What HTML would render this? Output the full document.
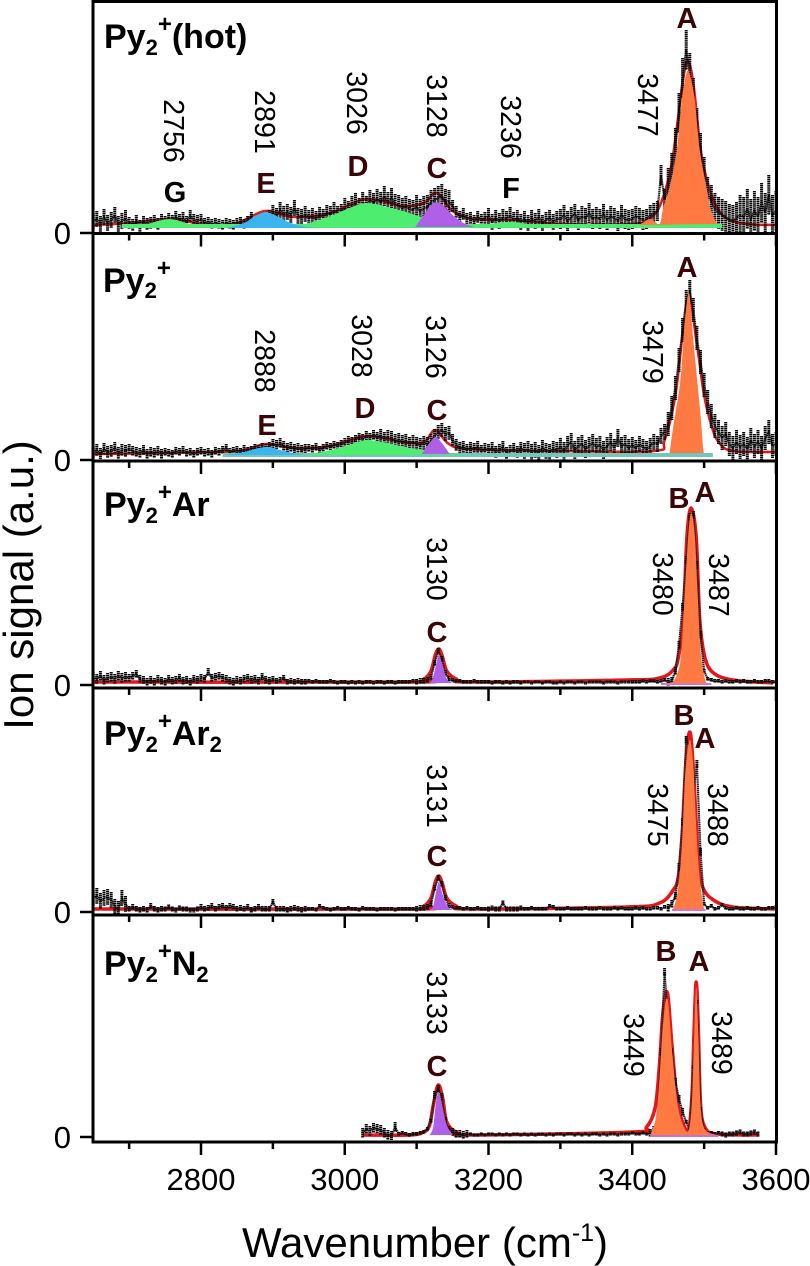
<!DOCTYPE html>
<html>
<head>
<meta charset="utf-8">
<title>Ion signal spectra</title>
<style>
html,body{margin:0;padding:0;background:#fff;width:810px;height:1266px;overflow:hidden}
svg{display:block;font-family:"Liberation Sans",sans-serif}
.pos{font-size:28.5px;fill:#000;text-anchor:middle}
.pk{font-size:29px;font-weight:bold;fill:#3a0508;text-anchor:middle}
.pkb{font-size:29px;font-weight:bold;fill:#000;text-anchor:middle}
.ttl{font-size:34px;font-weight:bold;fill:#000}
.tick{font-size:31px;fill:#000}
</style>
</head>
<body>
<svg id="chart" width="810" height="1266" viewBox="0 0 810 1266" xmlns="http://www.w3.org/2000/svg">
<rect x="0" y="0" width="810" height="1266" fill="#fff"/>
<g id="plot"></g>

<text class="ttl" x="104" y="48">Py<tspan font-size="22" dy="7">2</tspan><tspan font-size="24" dy="-23">+</tspan><tspan dy="16">(hot)</tspan></text>
<text class="ttl" x="103" y="292">Py<tspan font-size="22" dy="6">2</tspan><tspan font-size="24" dy="-22">+</tspan></text>
<text class="ttl" x="104" y="516">Py<tspan font-size="22" dy="7">2</tspan><tspan font-size="24" dy="-23">+</tspan><tspan dy="16">Ar</tspan></text>
<text class="ttl" x="104" y="745">Py<tspan font-size="22" dy="7">2</tspan><tspan font-size="24" dy="-23">+</tspan><tspan dy="16">Ar</tspan><tspan font-size="22" dy="7">2</tspan></text>
<text class="ttl" x="104" y="975">Py<tspan font-size="22" dy="7">2</tspan><tspan font-size="24" dy="-23">+</tspan><tspan dy="16">N</tspan><tspan font-size="22" dy="7">2</tspan></text>

<text class="pos" transform="translate(174 131) rotate(90)" dy="10">2756</text>
<text class="pos" transform="translate(265 122) rotate(90)" dy="10">2891</text>
<text class="pos" transform="translate(357 103) rotate(90)" dy="10">3026</text>
<text class="pos" transform="translate(437 106) rotate(90)" dy="10">3128</text>
<text class="pos" transform="translate(511 127) rotate(90)" dy="10">3236</text>
<text class="pos" transform="translate(648 105) rotate(90)" dy="10">3477</text>
<text class="pos" transform="translate(265 361) rotate(90)" dy="10">2888</text>
<text class="pos" transform="translate(362 346) rotate(90)" dy="10">3028</text>
<text class="pos" transform="translate(436 347) rotate(90)" dy="10">3126</text>
<text class="pos" transform="translate(653 352) rotate(90)" dy="10">3479</text>
<text class="pos" transform="translate(437 569) rotate(90)" dy="10">3130</text>
<text class="pos" transform="translate(663 584) rotate(90)" dy="10">3480</text>
<text class="pos" transform="translate(719 585) rotate(90)" dy="10">3487</text>
<text class="pos" transform="translate(437 796) rotate(90)" dy="10">3131</text>
<text class="pos" transform="translate(658 815) rotate(90)" dy="10">3475</text>
<text class="pos" transform="translate(718 815) rotate(90)" dy="10">3488</text>
<text class="pos" transform="translate(437 1003) rotate(90)" dy="10">3133</text>
<text class="pos" transform="translate(634 1045) rotate(90)" dy="10">3449</text>
<text class="pos" transform="translate(722 1043) rotate(90)" dy="10">3489</text>

<text class="pkb" x="175" y="202">G</text>
<text class="pk" x="266" y="193">E</text>
<text class="pk" x="358" y="176">D</text>
<text class="pk" x="437" y="178">C</text>
<text class="pkb" x="511" y="198">F</text>
<text class="pk" x="687" y="28">A</text>
<text class="pk" x="267" y="435">E</text>
<text class="pk" x="365" y="418">D</text>
<text class="pk" x="437" y="420">C</text>
<text class="pk" x="687" y="277">A</text>
<text class="pk" x="437" y="642">C</text>
<text class="pk" x="679" y="508">B</text>
<text class="pk" x="705" y="502">A</text>
<text class="pk" x="437" y="866">C</text>
<text class="pk" x="684" y="725">B</text>
<text class="pk" x="705" y="748">A</text>
<text class="pk" x="437" y="1076">C</text>
<text class="pk" x="666" y="961">B</text>
<text class="pk" x="699" y="971">A</text>

<text x="425" y="1257" font-size="42" text-anchor="middle" fill="#000">Wavenumber (cm<tspan font-size="25" dy="-16">-1</tspan><tspan dy="16">)</tspan></text>
<text transform="translate(33 585) rotate(-90)" font-size="42" text-anchor="middle" fill="#000">Ion signal (a.u.)</text>
</svg>

<script>
// X axis
const xMajorTicks = [2800, 3000, 3200, 3400, 3600];
const xMinorTicks = [2700, 2900, 3100, 3300, 3500];

// Measured signal, one value every 5 cm-1 (a.u.)
const hotStart = 2650;
const hotSignal = [
12,14,9,16,10,13,18,9,12,15,
10,8,12,7,11,9,10,12,9,13,
11,14,12,16,13,15,11,17,13,12,
14,10,11,9,10,9,8,10,9,8,
10,11,9,12,16,11,13,14,15,18,
20,17,23,19,21,18,25,17,16,19,
15,17,14,18,16,20,19,23,19,21,
25,22,27,30,25,31,27,33,30,34,
31,37,31,35,29,28,25,27,24,23,
26,22,25,26,31,33,35,37,32,31,
27,21,16,19,14,15,12,16,13,15,
17,11,15,12,16,14,18,13,15,11,
14,10,15,12,16,10,13,15,11,14,
14,18,12,16,19,13,17,15,20,14,
16,14,19,13,17,15,12,18,14,13,
14,17,15,13,14,18,20,22,58,34,
45,60,85,120,155,183,160,135,105,80,
60,40,32,24,20,18,16,13,12,15,
18,16,24,14,22,16,30,20,38,18,
22];
const hotErr = [8,6,6,5,5,8,8,10,10,12,6,8,8,10,10,10,20,16,20,20];

const py2Start = 2650;
const py2Signal = [
8,10,6,11,8,9,12,7,10,9,
11,9,8,7,10,6,8,7,9,6,
8,7,6,9,8,10,7,8,6,8,
9,7,8,6,9,8,10,12,8,9,
10,8,11,9,10,12,11,13,12,14,
16,15,17,14,12,13,11,12,10,11,
12,11,13,10,12,14,13,15,14,16,
17,19,18,20,22,21,24,22,25,23,
24,21,23,22,19,20,18,19,16,18,
16,15,17,16,19,24,28,30,26,27,
20,15,12,13,10,12,11,13,9,11,
10,12,8,10,13,7,9,11,8,12,
9,11,8,10,7,12,9,8,11,10,
13,9,15,18,10,14,16,11,14,17,
13,15,10,14,18,12,22,14,16,12,
15,12,16,13,11,14,18,16,24,28,
36,52,72,100,130,158,168,150,122,98,
75,58,44,34,28,22,26,16,12,18,
13,16,11,20,14,18,12,22,28,14,
16];
const py2Err = [6,5,4,4,4,5,4,5,7,7,6,6,8,9,9,8,12,12,12,12];

const arStart = 2650;
const arSignal = [
8,6,9,5,7,8,6,9,7,8,
7,9,11,6,5,3,5,3,6,4,
3,6,4,5,7,4,5,3,6,5,
7,6,13,7,8,9,7,6,4,3,
5,4,6,7,5,6,4,8,5,4,
6,4,5,7,3,4,3,4,3,3,
4,3,4,3,3,3,4,3,2,3,
3,2,3,2,3,2,3,3,2,3,
3,2,3,3,2,3,3,3,3,4,
3,4,4,5,8,22,34,26,12,6,
5,4,4,3,3,3,4,3,3,3,
3,2,3,3,2,3,2,3,3,2,
3,3,2,3,3,2,3,3,2,2,
3,2,3,3,2,3,3,2,3,3,
3,3,2,3,3,3,2,3,3,3,
3,3,3,4,3,4,4,3,4,5,
3,4,14,40,78,125,168,170,120,50,
14,6,5,4,4,3,4,3,3,4,
3,4,3,3,4,3,3,4,4,3,
3];
const arErr = [5,4,4,4,4,3,2,2,2,3,2,2,1.5,1.5,1.5,2,4,2,2,2];

const ar2Start = 2650;
const ar2Signal = [
14,16,11,14,15,12,5,3,14,8,
3,5,3,2,3,2,6,3,2,3,
3,5,3,2,4,3,3,2,2,3,
5,3,4,6,3,5,6,4,6,5,
3,4,3,5,2,3,5,3,3,3,
10,3,3,3,2,3,4,3,2,3,
3,3,2,6,4,3,2,3,4,3,
3,4,3,3,2,4,3,3,3,2,
3,3,3,3,2,3,3,3,3,3,
3,4,4,5,8,24,34,28,14,6,
5,4,4,3,4,3,3,4,3,3,
3,4,3,3,9,3,3,3,3,4,
3,3,4,3,3,3,3,6,5,3,
3,3,4,3,3,3,3,4,3,3,
3,4,3,3,3,4,3,4,3,3,
3,4,3,4,3,3,4,4,3,5,
4,8,16,45,90,172,165,120,148,60,
8,4,6,3,4,7,4,3,3,4,
3,3,4,3,3,4,3,3,4,4,
5];
const ar2Err = [8,3,2.5,3,3,3,2,2,2,3,2,2.5,2,2,2,2,4,2,2,2];

const n2Start = 3025;
const n2Signal = [
4,8,6,9,8,7,4,2,1,10,
3,4,3,2,3,3,4,5,8,16,
42,48,40,16,7,5,3,3,2,3,
3,2,2,3,2,3,3,2,3,2,
3,2,3,3,2,3,2,3,2,3,
3,2,3,2,3,3,2,3,3,2,
3,2,3,2,3,3,2,3,2,3,
3,2,3,3,3,4,3,3,4,3,
4,7,15,85,165,110,85,55,38,25,
15,7,70,135,28,7,4,4,3,4,
3,2,3,3,4,5,3,3,4,5,
3];
const n2Err = [5,2,4,1.5,1.5,1.5,1.5,1.5,4,2,2.5,2.5];

// Fit curves as [wavenumber, intensity]
const hotFit = [[2650,8],[2700,10],[2756,14],[2810,8],[2850,10],[2890,22],[2930,16],[2980,20],[3030,34],[3080,27],[3110,30],[3128,40],[3150,22],[3180,14],[3236,13],[3300,9],[3400,9],[3425,15],[3440,30],[3455,70],[3470,150],[3477,172],[3485,150],[3495,85],[3505,50],[3515,30],[3530,15],[3560,9],[3600,8]];
const hotBand = [[2690,5],[3525,5],[3525,9],[2690,9]];
const hotG = [[2690,5],[2720,8],[2756,14],[2790,8],[2830,5]];
const hotE = [[2835,5],[2860,10],[2875,17],[2890,21],[2905,17],[2925,10],[2945,6],[2965,5]];
const hotD = [[2925,5],[2950,10],[2980,17],[3010,26],[3030,30],[3060,26],[3090,20],[3120,13],[3150,9],[3180,5]];
const hotF = [[3160,5],[3200,9],[3236,11],[3270,7],[3300,5]];
const hotC = [[3098,6],[3110,18],[3120,28],[3128,31],[3138,27],[3150,18],[3165,10],[3180,6]];
const hotA = [[3410,8],[3425,14],[3438,9],[3443,25],[3452,46],[3462,83],[3469,133],[3476,161],[3481,156],[3487,133],[3494,83],[3504,43],[3510,22],[3518,9]];

const py2Fit = [[2650,6],[2750,7],[2850,9],[2890,16],[2930,12],[2980,14],[3030,24],[3080,18],[3110,18],[3126,30],[3145,16],[3175,11],[3300,9],[3430,9],[3445,20],[3460,65],[3470,125],[3479,165],[3490,115],[3500,65],[3510,35],[3520,18],[3540,9],[3600,8]];
const py2Band = [[2830,3],[3512,3],[3512,7],[2830,7]];
const py2E = [[2831,5],[2860,8],[2880,12],[2895,13],[2915,9],[2942,5]];
const py2D = [[2942,5],[2975,9],[3005,15],[3030,20],[3060,17],[3090,12],[3130,8],[3165,5]];
const py2C = [[3107,6],[3116,15],[3126,23],[3134,18],[3146,6]];
const py2A = [[3452,7],[3457,33],[3467,80],[3473,137],[3479,167],[3485,120],[3494,53],[3499,10],[3501,7]];

const arFit = [[2650,3],[3090,3],[3110,6],[3120,14],[3126,30],[3131,36],[3136,28],[3142,14],[3155,6],[3175,3],[3392,5],[3438,7],[3457,15],[3464,27],[3471,65],[3476,148],[3482,177],[3489,148],[3494,65],[3501,28],[3513,12],[3540,5],[3596,2]];
const arBand = [[3440,0],[3510,0],[3510,2],[3440,2]];
const arC = [[3118,2],[3122,6],[3127,20],[3131,30],[3136,20],[3142,6],[3150,2]];
const arA = [[3455,2],[3462,10],[3468,30],[3473,90],[3478,150],[3482,172],[3487,150],[3491,90],[3495,35],[3500,10],[3503,2]];

const ar2Fit = [[2650,3],[3090,3],[3110,6],[3120,14],[3126,30],[3131,36],[3136,28],[3142,14],[3155,6],[3175,3],[3392,5],[3438,9],[3457,22],[3464,35],[3469,72],[3475,155],[3480,180],[3484,155],[3489,89],[3492,52],[3498,25],[3513,12],[3540,5],[3600,3]];
const ar2Band = [[3455,1],[3502,1],[3502,3],[3455,3]];
const ar2C = [[3118,2],[3123,6],[3127,20],[3131,30],[3136,18],[3143,6],[3150,2]];
const ar2A = [[3457,3],[3463,20],[3469,65],[3474,140],[3480,172],[3485,145],[3489,85],[3493,40],[3497,15],[3500,3]];

const n2Fit = [[3025,2],[3090,2],[3110,5],[3118,12],[3124,35],[3130,52],[3136,40],[3142,15],[3155,5],[3175,2],[3401,5],[3420,10],[3432,30],[3438,74],[3443,127],[3449,144],[3455,94],[3462,40],[3469,17],[3478,7],[3483,40],[3486,107],[3489,155],[3492,107],[3495,34],[3501,10],[3518,3],[3576,2]];
const n2Band = [[3425,0],[3520,0],[3520,2],[3425,2]];
const n2C = [[3118,2],[3123,10],[3127,35],[3131,45],[3136,30],[3142,12],[3150,2]];
const n2A = [[3425,2],[3433,20],[3438,60],[3443,115],[3449,138],[3455,90],[3462,38],[3469,15],[3478,6],[3483,35],[3486,100],[3489,150],[3492,100],[3495,32],[3501,8],[3518,2]];

const GREEN = '#4ded6f', BLUE = '#3cb4f0', PURPLE = '#b060e8', ORANGE = '#ff7a42', RED = '#e8141c';
const SVGNS = 'http://www.w3.org/2000/svg';
const plot = document.getElementById('plot');

function xOf(w) { return 201 + (w - 2800) * 0.71875; }
function yOf(zero, v) { return zero - v; }

function mk(tag, parent) {
  const el = document.createElementNS(SVGNS, tag);
  parent.appendChild(el);
  return el;
}

// Smooth path through the [wavenumber, intensity] pairs
function curvePath(pts, zero) {
  const p = pts.map(q => [xOf(q[0]), yOf(zero, q[1])]);
  let d = 'M' + p[0][0].toFixed(1) + ' ' + p[0][1].toFixed(1);
  for (let i = 0; i < p.length - 1; i++) {
    const a = p[Math.max(i - 1, 0)], b = p[i], c = p[i + 1], e = p[Math.min(i + 2, p.length - 1)];
    const c1x = b[0] + (c[0] - a[0]) / 6, c1y = b[1] + (c[1] - a[1]) / 6;
    const c2x = c[0] - (e[0] - b[0]) / 6, c2y = c[1] - (e[1] - b[1]) / 6;
    d += 'C' + c1x.toFixed(1) + ' ' + c1y.toFixed(1) + ' ' + c2x.toFixed(1) + ' ' + c2y.toFixed(1) + ' ' + c[0].toFixed(1) + ' ' + c[1].toFixed(1);
  }
  return d;
}

function fillShape(parent, pts, zero, color, name, straight) {
  const el = mk('path', parent);
  
  
  if (straight) {
    el.setAttribute('d', 'M' + pts.map(p => xOf(p[0]).toFixed(1) + ' ' + yOf(zero, p[1]).toFixed(1)).join('L') + 'Z');
  } else {
    el.setAttribute('d', curvePath(pts, zero) + 'Z');
  }
  el.setAttribute('fill', color);
}

function drawPanel(cfg) {
  const g = mk('g', plot);
  
  

  // fit curve
  const fit = mk('path', g);
  
  
  fit.setAttribute('d', curvePath(cfg.fit, cfg.zero));
  fit.setAttribute('fill', 'none');
  fit.setAttribute('stroke', RED);
  fit.setAttribute('stroke-width', cfg.fitWidth);
  fit.setAttribute('stroke-linejoin', 'round');

  // connecting trace through the data
  const trace = mk('polyline', g);
  
  
  trace.setAttribute('points', cfg.signal.map((v, i) => xOf(cfg.start + 5 * i).toFixed(1) + ',' + yOf(cfg.zero, v).toFixed(1)).join(' '));
  trace.setAttribute('fill', 'none');
  trace.setAttribute('stroke', '#222');
  trace.setAttribute('stroke-width', '2.2');
  trace.setAttribute('stroke-dasharray', '1.4 0.5');

  // data sticks with error extent
  cfg.signal.forEach((v, i) => {
    const w = cfg.start + 5 * i;
    const e = cfg.err[Math.floor(i / 10)];
    const st = mk('line', g);
    
    
    st.setAttribute('x1', xOf(w).toFixed(1));
    st.setAttribute('x2', xOf(w).toFixed(1));
    st.setAttribute('y1', yOf(cfg.zero, v + e).toFixed(1));
    st.setAttribute('y2', Math.min(yOf(cfg.zero, v - e), cfg.axis).toFixed(1));
    st.setAttribute('stroke', '#000');
    st.setAttribute('stroke-width', '3');
    st.setAttribute('stroke-dasharray', '1.4 0.5');
  });

  // fitted components
  cfg.fills.forEach(f => fillShape(g, f[0], cfg.zero, f[1], f[2], f[2] === 'fit-baseline'));

  // horizontal axis line
  const ax = mk('line', g);
  
  
  ax.setAttribute('x1', 93);
  ax.setAttribute('x2', 778);
  ax.setAttribute('y1', cfg.axis);
  ax.setAttribute('y2', cfg.axis);
  ax.setAttribute('stroke', '#000');
  ax.setAttribute('stroke-width', '3');

  // ticks
  xMajorTicks.forEach(t => {
    const l = mk('line', g);
    
    
    l.setAttribute('x1', xOf(t));
    l.setAttribute('x2', xOf(t));
    l.setAttribute('y1', cfg.axis);
    l.setAttribute('y2', cfg.axis + 13);
    l.setAttribute('stroke', '#000');
    l.setAttribute('stroke-width', '2.5');
  });
  xMinorTicks.forEach(t => {
    const l = mk('line', g);
    
    
    l.setAttribute('x1', xOf(t));
    l.setAttribute('x2', xOf(t));
    l.setAttribute('y1', cfg.axis);
    l.setAttribute('y2', cfg.axis + 7);
    l.setAttribute('stroke', '#000');
    l.setAttribute('stroke-width', '2.5');
  });

  // y zero tick + label
  const zt = mk('line', g);
  
  
  zt.setAttribute('x1', 80);
  zt.setAttribute('x2', 93);
  zt.setAttribute('y1', cfg.zero);
  zt.setAttribute('y2', cfg.zero);
  zt.setAttribute('stroke', '#000');
  zt.setAttribute('stroke-width', '2.5');

  const zl = mk('text', g);
  
  
  zl.setAttribute('class', 'tick');
  zl.setAttribute('x', 71);
  zl.setAttribute('y', cfg.zero + 11);
  zl.setAttribute('text-anchor', 'end');
  zl.textContent = '0';
}

drawPanel({name:'panel-py2-hot', zero:233, axis:233.5, start:hotStart, signal:hotSignal, err:hotErr, fit:hotFit, fitWidth:2.5,
  fills:[[hotBand,GREEN,'fit-baseline'],[hotG,GREEN,'peak-g-fill'],[hotF,GREEN,'peak-f-fill'],[hotD,GREEN,'peak-d-fill'],[hotE,BLUE,'peak-e-fill'],[hotC,PURPLE,'peak-c-fill'],[hotA,ORANGE,'peak-a-fill']]});
drawPanel({name:'panel-py2', zero:460, axis:461, start:py2Start, signal:py2Signal, err:py2Err, fit:py2Fit, fitWidth:2.5,
  fills:[[py2Band,'#6fc8b8','fit-baseline'],[py2E,BLUE,'peak-e-fill'],[py2D,GREEN,'peak-d-fill'],[py2C,PURPLE,'peak-c-fill'],[py2A,ORANGE,'peak-a-fill']]});
drawPanel({name:'panel-py2-ar', zero:685, axis:688, start:arStart, signal:arSignal, err:arErr, fit:arFit, fitWidth:3.5,
  fills:[[arBand,'#e070c0','fit-baseline'],[arC,PURPLE,'peak-c-fill'],[arA,ORANGE,'peak-a-fill']]});
drawPanel({name:'panel-py2-ar2', zero:912, axis:915, start:ar2Start, signal:ar2Signal, err:ar2Err, fit:ar2Fit, fitWidth:3.5,
  fills:[[ar2Band,'#d070d8','fit-baseline'],[ar2C,PURPLE,'peak-c-fill'],[ar2A,ORANGE,'peak-a-fill']]});
drawPanel({name:'panel-py2-n2', zero:1137, axis:1142, start:n2Start, signal:n2Signal, err:n2Err, fit:n2Fit, fitWidth:3.5,
  fills:[[n2Band,'#c070d8','fit-baseline'],[n2C,PURPLE,'peak-c-fill'],[n2A,ORANGE,'peak-a-fill']]});

// Frame
const frame = mk('rect', plot);


frame.setAttribute('x', 93);
frame.setAttribute('y', 1.5);
frame.setAttribute('width', 683.5);
frame.setAttribute('height', 1140.5);
frame.setAttribute('fill', 'none');
frame.setAttribute('stroke', '#000');
frame.setAttribute('stroke-width', '3');

// X tick labels
xMajorTicks.forEach(t => {
  const l = mk('text', plot);
  
  
  l.setAttribute('class', 'tick');
  l.setAttribute('x', xOf(t));
  l.setAttribute('y', 1190);
  l.setAttribute('text-anchor', 'middle');
  l.textContent = String(t);
});
</script>
</body>
</html>
